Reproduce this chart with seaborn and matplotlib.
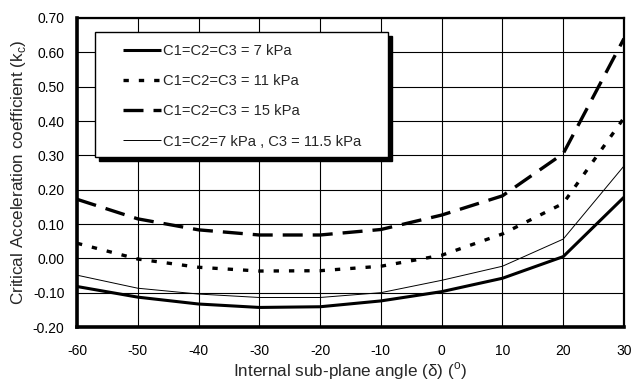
import matplotlib
matplotlib.use("Agg")
import matplotlib.pyplot as plt
from matplotlib.patches import Rectangle
import matplotlib.transforms as mtransforms
import seaborn as sns
import pandas as pd
import numpy as np

angles = [-60, -50, -40, -30, -20, -10, 0, 10, 20, 30]
kc_7 = [-0.082, -0.113, -0.133, -0.143, -0.141, -0.124, -0.097, -0.058, 0.005, 0.178]
kc_11 = [0.044, -0.002, -0.026, -0.037, -0.036, -0.023, 0.009, 0.071, 0.160, 0.409]
kc_15 = [0.172, 0.115, 0.083, 0.068, 0.068, 0.084, 0.126, 0.182, 0.305, 0.640]
kc_mix = [-0.049, -0.087, -0.104, -0.114, -0.114, -0.100, -0.064, -0.023, 0.056, 0.269]
labels = ["C1=C2=C3 = 7 kPa", "C1=C2=C3 = 11 kPa", "C1=C2=C3 = 15 kPa",
          "C1=C2=7 kPa , C3 = 11.5 kPa"]
x_ticks = [-60, -50, -40, -30, -20, -10, 0, 10, 20, 30]
y_ticks = [-0.20, -0.10, 0.00, 0.10, 0.20, 0.30, 0.40, 0.50, 0.60, 0.70]

sns.set_style("white")
plt.rcParams['font.family'] = ['Liberation Sans', 'DejaVu Sans']
plt.rcParams['mathtext.fontset'] = 'custom'
plt.rcParams['mathtext.rm'] = 'Liberation Sans'

fig = plt.figure(figsize=(6.32, 3.87), dpi=100)
ax = fig.add_axes([0.1218, 0.155, 0.8655, 0.7985])

styles = [
    dict(lw=2.2, dashes=None),
    dict(lw=2.4, dashes=(1.6, 3.0)),
    dict(lw=2.4, dashes=(6.0, 3.0)),
    dict(lw=0.7, dashes=None),
]
series = [kc_7, kc_11, kc_15, kc_mix]
handles = []
for vals, lab, st in zip(series, labels, styles):
    df = pd.DataFrame({"angle": angles, "kc": vals})
    n_before = len(ax.lines)
    sns.lineplot(data=df, x="angle", y="kc", ax=ax, color="black",
                 linewidth=st["lw"], label=lab, legend=False, zorder=3)
    line = ax.lines[n_before]
    if st["dashes"] is not None:
        line.set_dashes(st["dashes"])
    line.set_solid_capstyle("butt")
    line.set_dash_capstyle("butt")
    handles.append(line)

ax.set_xlim(-60, 30)
ax.set_ylim(-0.20, 0.70)
ax.set_xticks(x_ticks)
ax.set_xticklabels([str(v) for v in x_ticks])
ax.set_yticks(y_ticks)
ax.set_yticklabels([f"{v:.2f}" for v in y_ticks])
ax.grid(True, color="black", linewidth=0.8)
ax.set_axisbelow(True)
ax.tick_params(axis="both", length=0, labelsize=10, colors="black")
ax.tick_params(axis="x", pad=12)
ax.tick_params(axis="y", pad=9)

for side, w in [("left", 2.6), ("bottom", 2.6), ("top", 1.6), ("right", 1.6)]:
    ax.spines[side].set_visible(True)
    ax.spines[side].set_color("black")
    ax.spines[side].set_linewidth(w)

ax.set_xlabel(r"Internal sub-plane angle (δ) ($^\mathregular{o}$)", fontsize=12.3, labelpad=2)
ax.set_ylabel(r"Critical Acceleration coefficient (k$_\mathregular{c}$)", fontsize=12.3, labelpad=3.5)

# legend frame with solid shadow
lx, ly, lw_, lh = 0.033, 0.549, 0.536, 0.405
off = mtransforms.ScaledTranslation(3.5 / 100, -3.5 / 100, fig.dpi_scale_trans)
shadow = Rectangle((lx, ly), lw_, lh, transform=ax.transAxes + off,
                   facecolor="black", edgecolor="black", zorder=4)
ax.add_patch(shadow)
frame = Rectangle((lx, ly), lw_, lh, transform=ax.transAxes,
                  facecolor="white", edgecolor="black", linewidth=1.0, zorder=5)
ax.add_patch(frame)

leg = ax.legend(handles=handles, labels=labels, loc="upper left",
                bbox_to_anchor=(0.073, 0.935), frameon=False, fontsize=10.6,
                handlelength=2.6, handletextpad=0.1, labelspacing=1.1,
                borderaxespad=0)
leg.set_zorder(6)

fig.savefig("out.png", dpi=100)
